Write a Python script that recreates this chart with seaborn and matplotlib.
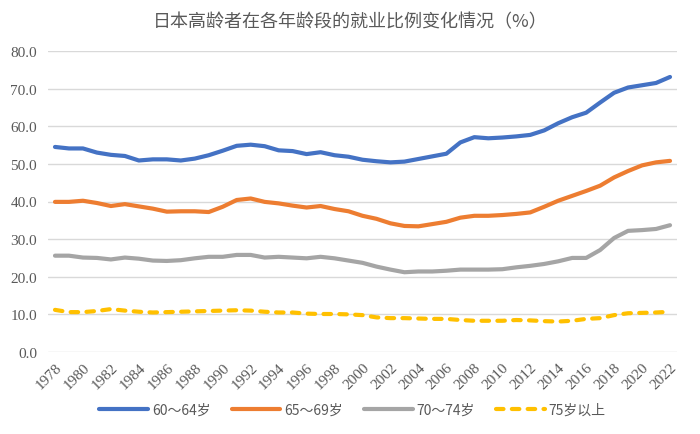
import matplotlib
matplotlib.use("Agg")
import matplotlib.pyplot as plt
import seaborn as sns
import pandas as pd

years = list(range(1978, 2023))
age_60_64 = [54.5, 54.1, 54.1, 53.0, 52.4, 52.1, 50.9, 51.2, 51.2, 50.9, 51.4, 52.3, 53.5, 54.8, 55.1,
             54.7, 53.6, 53.4, 52.6, 53.1, 52.3, 51.9, 51.1, 50.7, 50.4, 50.6, 51.3, 52.0, 52.7, 55.7,
             57.1, 56.8, 57.0, 57.3, 57.7, 58.9, 60.8, 62.4, 63.6, 66.3, 68.9, 70.3, 70.9, 71.5, 73.1]
age_65_69 = [39.9, 39.9, 40.2, 39.6, 38.8, 39.3, 38.7, 38.1, 37.3, 37.4, 37.4, 37.2, 38.6, 40.4, 40.8,
             39.9, 39.5, 38.9, 38.4, 38.8, 38.0, 37.4, 36.2, 35.4, 34.2, 33.5, 33.4, 34.0, 34.6, 35.7,
             36.2, 36.2, 36.4, 36.7, 37.1, 38.6, 40.2, 41.5, 42.8, 44.2, 46.4, 48.1, 49.6, 50.4, 50.8]
age_70_74 = [25.6, 25.6, 25.1, 25.0, 24.6, 25.1, 24.8, 24.3, 24.2, 24.4, 24.9, 25.3, 25.3, 25.8, 25.8,
             25.1, 25.3, 25.1, 24.9, 25.3, 24.9, 24.3, 23.7, 22.7, 21.9, 21.2, 21.4, 21.4, 21.6, 21.9,
             21.9, 21.9, 22.0, 22.5, 22.9, 23.4, 24.1, 25.0, 25.0, 27.1, 30.3, 32.2, 32.4, 32.7, 33.7]
age_75_up = [11.2, 10.6, 10.6, 10.9, 11.4, 11.0, 10.7, 10.5, 10.6, 10.7, 10.8, 10.9, 11.0, 11.1, 11.0,
             10.7, 10.5, 10.5, 10.2, 10.1, 10.1, 10.0, 9.8, 9.2, 9.0, 9.0, 8.9, 8.8, 8.8, 8.5,
             8.3, 8.3, 8.3, 8.5, 8.4, 8.2, 8.1, 8.3, 8.8, 9.0, 9.8, 10.3, 10.4, 10.5, 10.7]
labels = ["60～64岁", "65～69岁", "70～74岁", "75岁以上"]
title = "日本高龄者在各年龄段的就业比例变化情况（%）"
xtick_years = list(range(1978, 2023, 2))
yticks = [0, 10, 20, 30, 40, 50, 60, 70, 80]

sns.set_theme(style="white")
plt.rcParams['font.family'] = ['Noto Sans CJK SC', 'DejaVu Sans']

colors = ["#4472C4", "#ED7D31", "#A5A5A5", "#FFC000"]
series = [age_60_64, age_65_69, age_70_74, age_75_up]

fig = plt.figure(figsize=(7, 4.35), dpi=100)
ax = fig.add_axes([48/700, 1 - 353/435, (677 - 48)/700, (353 - 52)/435])

for vals, lab, col in zip(series, labels, colors):
    df = pd.DataFrame({"year": years, "value": vals})
    ls = (0, (1.8, 2.0)) if lab == "75岁以上" else "-"
    sns.lineplot(data=df, x="year", y="value", ax=ax, color=col, linewidth=3,
                 label=lab, linestyle=ls, solid_capstyle="round", dash_capstyle="round")

ax.set_xlim(1977.5, 2022.5)
ax.set_ylim(0, 80)
ax.set_yticks(yticks)
ax.set_yticklabels([f"{v:.1f}" for v in yticks], color="#595959", fontsize=11)
ax.set_xticks(xtick_years)
ax.set_xticklabels([str(y) for y in xtick_years], rotation=45, color="#595959", fontsize=11,
                   ha="right", va="top", rotation_mode="anchor")
for t in ax.get_xticklabels() + ax.get_yticklabels():
    t.set_fontfamily(["Liberation Serif", "DejaVu Serif"])
ax.tick_params(axis="y", length=0, pad=8)
ax.tick_params(axis="x", length=0, pad=6)
ax.grid(axis="y", color="#D9D9D9", linewidth=1)
ax.set_axisbelow(True)
for s in ax.spines.values():
    s.set_visible(False)
ax.set_xlabel("")
ax.set_ylabel("")

fig.text(0.5, 1 - 22/435, title, ha="center", va="center", fontsize=13, color="#595959")

handles, labs = ax.get_legend_handles_labels()
ax.legend(handles, labs, loc="center", bbox_to_anchor=(0.5 - 10/629, (353 - 411)/301), ncol=4,
          frameon=False, fontsize=10, handlelength=3.5, columnspacing=1.5, handletextpad=0.3,
          labelcolor="#595959")

fig.savefig("out.png", dpi=100)
